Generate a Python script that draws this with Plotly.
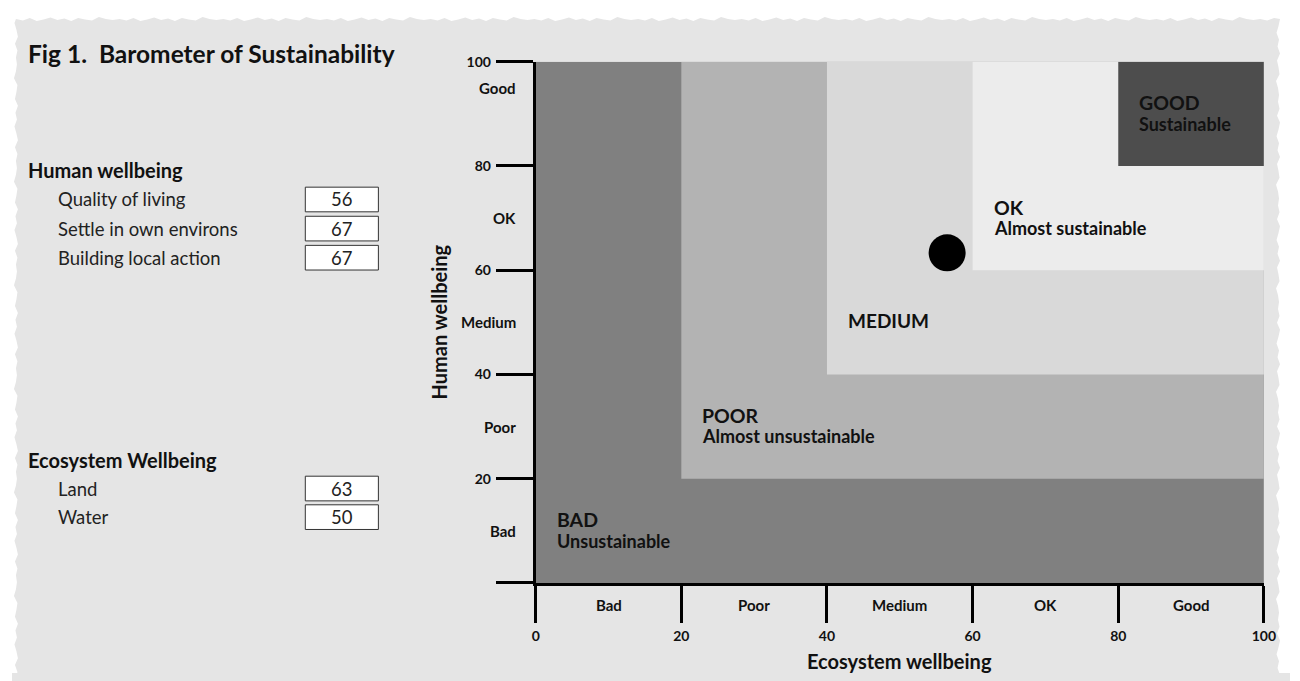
import plotly.graph_objects as go

# The page body keeps its default 8px margin, so the figure is sized to make
# the whole page exactly 1300x681; reference pixel coords are shifted by 8.
PAGE_W, PAGE_H = 1300, 681
BODY_MARGIN = 8
W, H = PAGE_W - 2 * BODY_MARGIN, PAGE_H - 2 * BODY_MARGIN
FONT = "Lato"
PANEL = "#e5e5e5"


def px(x):
    return (x - BODY_MARGIN) / W


def py(y):
    return 1 - (y - BODY_MARGIN) / H


# ---------------- data ----------------
band_edges = [0, 20, 40, 60, 80, 100]
band_names = ["Bad", "Poor", "Medium", "OK", "Good"]
band_colors = ["#808080", "#b3b3b3", "#d9d9d9", "#ececec", "#4d4d4d"]
region_titles = ["BAD", "POOR", "MEDIUM", "OK", "GOOD"]
region_subtitles = ["Unsustainable", "Almost unsustainable", "", "Almost sustainable", "Sustainable"]
y_band_label_pos = [10, 30, 50, 70, 95]
x_tick_labels = ["0", "20", "40", "60", "80", "100"]
y_tick_labels = ["", "20", "40", "60", "80", "100"]

human_items = ["Quality of living", "Settle in own environs", "Building local action"]
human_values = [56, 67, 67]
eco_items = ["Land", "Water"]
eco_values = [63, 50]

eco_score = sum(eco_values) / len(eco_values)
human_score = sum(human_values) / len(human_values)

# ---------------- figure ----------------
fig = go.Figure()

shapes = []

# rough-edged paper panel (decorative)
wob = [0, 1.5, -1, 2, 0.5, -1.5, 1, -0.5, 2, -1, 0.5, 1.5, -2, 0, 1]
pts = []
x0p, x1p, y0p, y1p = 12, 1290, 10, 700
k = 0
x = x0p
while x < x1p:
    pts.append((x, y0p + wob[k % len(wob)]))
    x += 7
    k += 1
y = y0p
while y < y1p:
    pts.append((x1p + wob[k % len(wob)], y))
    y += 7
    k += 1
x = x1p
while x > x0p:
    pts.append((x, y1p))
    x -= 7
y = y1p
while y > y0p:
    pts.append((x0p + wob[k % len(wob)], y))
    y -= 7
    k += 1
path = "M " + " L ".join(f"{px(a):.5f},{py(b):.5f}" for a, b in pts) + " Z"
shapes.append(dict(type="path", xref="paper", yref="paper", path=path,
                   fillcolor=PANEL, line=dict(width=0), layer="below"))

# nested sustainability regions
for lo, col in zip(band_edges[:-1], band_colors):
    shapes.append(dict(type="rect", xref="x", yref="y", x0=lo, x1=100, y0=lo, y1=100,
                       fillcolor=col, line=dict(width=0), layer="below"))


def add_box(yc):
    shapes.append(dict(type="rect", xref="paper", yref="paper",
                       x0=px(305), x1=px(379), y0=py(yc + 12.5), y1=py(yc - 12.5),
                       fillcolor="white", line=dict(color="#333333", width=1)))


annotations = []

# title
annotations.append(dict(text="<b>Fig 1.  Barometer of Sustainability</b>", xref="paper", yref="paper",
                        x=px(22), y=py(45), xanchor="left", yanchor="middle", showarrow=False,
                        font=dict(family=FONT, size=24.5, color="#111")))

# left panel
annotations.append(dict(text="<b>Human wellbeing</b>", xref="paper", yref="paper",
                        x=px(22), y=py(163), xanchor="left", yanchor="middle", showarrow=False,
                        font=dict(family=FONT, size=20, color="#111")))
row_y = [193, 222.5, 252]
for name, val, yc in zip(human_items, human_values, row_y):
    annotations.append(dict(text=name, xref="paper", yref="paper", x=px(53), y=py(yc),
                            xanchor="left", yanchor="middle", showarrow=False,
                            font=dict(family=FONT, size=18.5, color="#222")))
    add_box(yc)
    annotations.append(dict(text=str(val), xref="paper", yref="paper", x=px(342), y=py(yc),
                            xanchor="center", yanchor="middle", showarrow=False,
                            font=dict(family=FONT, size=18.5, color="#222")))

annotations.append(dict(text="<b>Ecosystem Wellbeing</b>", xref="paper", yref="paper",
                        x=px(22), y=py(457), xanchor="left", yanchor="middle", showarrow=False,
                        font=dict(family=FONT, size=20, color="#111")))
row_y = [486, 515]
for name, val, yc in zip(eco_items, eco_values, row_y):
    annotations.append(dict(text=name, xref="paper", yref="paper", x=px(53), y=py(yc),
                            xanchor="left", yanchor="middle", showarrow=False,
                            font=dict(family=FONT, size=18.5, color="#222")))
    add_box(yc)
    annotations.append(dict(text=str(val), xref="paper", yref="paper", x=px(342), y=py(yc),
                            xanchor="center", yanchor="middle", showarrow=False,
                            font=dict(family=FONT, size=18.5, color="#222")))

# region labels
for lo, t, s in zip(band_edges[:-1], region_titles, region_subtitles):
    if s:
        annotations.append(dict(text=f"<b>{t}</b>", xref="x", yref="y", x=lo + 2.6, y=lo + 12.1,
                                xanchor="left", yanchor="middle", showarrow=False,
                                font=dict(family=FONT, size=19.5, color="#111")))
        annotations.append(dict(text=f"<b>{s}</b>", xref="x", yref="y", x=lo + 2.6, y=lo + 8.1,
                                xanchor="left", yanchor="middle", showarrow=False,
                                font=dict(family=FONT, size=18, color="#111")))
    else:
        annotations.append(dict(text=f"<b>{t}</b>", xref="x", yref="y", x=lo + 2.6, y=lo + 10.3,
                                xanchor="left", yanchor="middle", showarrow=False,
                                font=dict(family=FONT, size=19, color="#111")))

# band labels along axes
for lo, hi, nm in zip(band_edges[:-1], band_edges[1:], band_names):
    annotations.append(dict(text=f"<b>{nm}</b>", xref="x", yref="paper", x=(lo + hi) / 2, y=py(604),
                            xanchor="center", yanchor="middle", showarrow=False,
                            font=dict(family=FONT, size=15, color="#111")))
for yv, nm in zip(y_band_label_pos, band_names):
    annotations.append(dict(text=f"<b>{nm}</b>", xref="paper", yref="y", x=px(520), y=yv,
                            xanchor="right", yanchor="middle", showarrow=False,
                            font=dict(family=FONT, size=15, color="#111")))

# axis titles
annotations.append(dict(text="<b>Ecosystem wellbeing</b>", xref="paper", yref="paper",
                        x=px(907), y=py(661), xanchor="center", yanchor="middle", showarrow=False,
                        font=dict(family=FONT, size=20, color="#111")))
annotations.append(dict(text="<b>Human wellbeing</b>", xref="paper", yref="paper",
                        x=px(440), y=py(317), xanchor="center", yanchor="middle", showarrow=False,
                        textangle=-90, font=dict(family=FONT, size=20, color="#111")))

# the barometer point
fig.add_trace(go.Scatter(x=[eco_score], y=[human_score], mode="markers",
                         marker=dict(size=37, color="black"), cliponaxis=False,
                         hoverinfo="skip", showlegend=False))

axis_common = dict(range=[0, 100], tickvals=band_edges,
                   showgrid=False, zeroline=False, showline=True, linecolor="black", linewidth=3,
                   ticks="outside", ticklen=37, tickwidth=3, tickcolor="black",
                   tickfont=dict(family=FONT, size=14, color="#111", weight="bold"),
                   fixedrange=True)

fig.update_layout(
    width=W, height=H,
    margin=dict(l=0, r=0, t=0, b=0),
    paper_bgcolor="white",
    plot_bgcolor="rgba(0,0,0,0)",
    xaxis=dict(domain=[px(538.3), px(1275.7)], ticktext=x_tick_labels, ticklabelstandoff=1,
               **axis_common),
    yaxis=dict(domain=[py(581.7), py(53.3)], ticktext=y_tick_labels, ticklabelstandoff=2,
               **axis_common),
    shapes=shapes,
    annotations=annotations,
    showlegend=False,
)

# continue the grey panel into the page's bottom margin strip (layout-neutral)
bottom_strip = (
    "document.body.style.background="
    f"'linear-gradient({PANEL},{PANEL}) 12px {PAGE_H - BODY_MARGIN}px / 1278px {BODY_MARGIN}px no-repeat, #ffffff';"
)
fig.write_html("out.html", config={"displayModeBar": False}, post_script=bottom_strip)
